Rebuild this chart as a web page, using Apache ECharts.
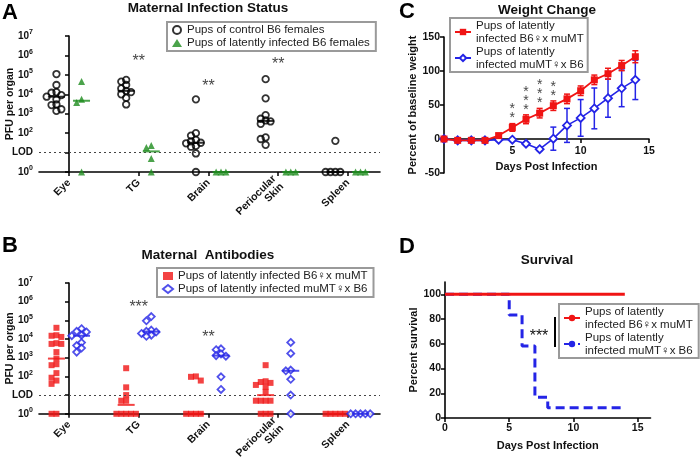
<!DOCTYPE html>
<html><head><meta charset="utf-8">
<script src="https://cdn.jsdelivr.net/npm/echarts@6/dist/echarts.min.js"></script>
<style>html,body{margin:0;padding:0;background:#fff}#c{width:700px;height:469px}</style>
</head><body><div id="c"></div>
<script>
// ---------- DATA ----------
const organs = ['Eye', 'TG', 'Brain', 'Periocular\nSkin', 'Spleen'];
const logTickLabels = {0: '10^0', 1: 'LOD', 2: '10^2', 3: '10^3', 4: '10^4', 5: '10^5', 6: '10^6', 7: '10^7'};

// Panel A: PFU per organ, one list per organ
const aControl = [
  [110000, 30000, 13000, 12000, 9000, 7500, 5500, 3000, 2800, 1700, 1400],
  [55000, 45000, 30000, 20000, 15000, 13000, 10000, 6500, 3000],
  [5500, 100, 75, 45, 38, 32, 30, 22, 20, 9, 1],
  [60000, 6200, 850, 550, 450, 400, 300, 60, 50, 25],
  [40, 1, 1, 1, 1]
];
const aLatent = [
  [45000, 5500, 3800, 1],
  [23, 18, 5, 1],
  [1, 1, 1],
  [1, 1, 1],
  [1, 1, 1]
];
const aSigOrgan = [1, 2, 3];
const aSigText = ['**', '**', '**'];
const aSigLevel = [4.7e5, 2.4e4, 3.2e5];

// Panel B
const bB6xmuMT = [
  [40000, 16000, 15000, 13000, 6000, 5500, 5500, 2000, 900, 450, 400, 150, 85, 60, 40, 1, 1],
  [275, 26, 10, 5, 5, 1, 1, 1, 1, 1],
  [100, 95, 60, 1, 1, 1, 1],
  [400, 55, 50, 45, 35, 28, 15, 5, 5, 5, 5, 1, 1, 1],
  [1, 1, 1, 1, 1]
];
const bmuMTxB6 = [
  [36000, 26000, 24000, 16000, 15000, 6500, 4500, 3300, 2000],
  [160000, 95000, 30000, 26000, 24000, 20000, 16000, 14000],
  [3000, 2700, 1600, 1300, 1200, 95, 20],
  [6600, 1700, 220, 200, 70, 10, 1],
  [1, 1, 1, 1, 1]
];
const bSigOrgan = [1, 2];
const bSigText = ['***', '**'];
const bSigLevel = [4.9e5, 1.2e4];

// Panel C: weight change (% of baseline)
const days = [0, 1, 2, 3, 4, 5, 6, 7, 8, 9, 10, 11, 12, 13, 14];
const wRedMean = [0, -2, -2, -2, 5, 17, 29, 38, 49, 59, 71, 87, 96, 108, 121];
const wRedSD   = [0, 1, 1, 1, 3, 5.6, 6.5, 7, 7, 7, 7, 7, 8, 7.5, 8.8];
const wBlueMean = [0, -2, -2, -2, -1, -1, -7, -15, 0.5, 20, 31, 45, 60, 74.5, 87];
const wBlueSD   = [0, 1, 1, 1, 1, 1, 2, 2, 17, 25, 27, 30, 28, 27, 29];
const cSigDays = [5, 6, 7, 8];
const cSigText = ['**', '***', '***', '**'];

// Panel D: survival
const sRedDays = [0, 14];
const sRed = [100, 100];
const sBlueDays = [0, 5, 6, 7, 8, 14];
const sBlue = [100, 83.3, 58.3, 16.7, 8.3, 8.3];

const legendText = {
  'A:ctl': 'Pups of control B6 females',
  'A:lat': 'Pups of latently infected B6 females',
  'B:b6': 'Pups of latently infected B6\u2640x muMT',
  'B:mu': 'Pups of latently infected muMT\u2640x B6',
  'C:b6': 'Pups of latently\ninfected B6\u2640x muMT',
  'C:mu': 'Pups of latently\ninfected muMT\u2640x B6',
  'D:b6': 'Pups of latently\ninfected B6\u2640x muMT',
  'D:mu': 'Pups of latently\ninfected muMT\u2640x B6'
};

// ---------- HELPERS ----------
const FONT = '"Liberation Sans", Arial, Helvetica, sans-serif';
const RED = '#f01414', BLUE = '#2424e6', GREEN = '#1e8c1e', BLACK = '#111';

function swarm(groups, offset, step, thr) {
  const out = [];
  groups.forEach((vals, ci) => {
    const placed = [];
    vals.forEach(v => {
      const lv = Math.log10(v);
      let off = 0;
      for (let i = 0; i < 30; i++) {
        off = (i === 0 ? 0 : (i % 2 ? -1 : 1) * Math.ceil(i / 2)) * step;
        const o = off;
        if (!placed.some(p => Math.abs(p.lv - lv) < thr && Math.abs(p.off - o) < step * 0.9)) break;
      }
      placed.push({lv, off});
      out.push([ci + offset + off, v]);
    });
  });
  return out;
}
function median(a) {
  const s = a.slice().sort((x, y) => x - y);
  const n = s.length;
  return n % 2 ? s[(n - 1) / 2] : (s[n / 2 - 1] + s[n / 2]) / 2;
}
function medians(groups, offset) {
  return groups.map((g, ci) => [ci + offset, median(g)]);
}

const axisLineStyle = {color: '#000', width: 1.6};
const tickLabelStyle = {fontSize: 10.5, fontWeight: 'bold', color: BLACK, fontFamily: FONT};
const nameStyle = {fontSize: 11, fontWeight: 'bold', color: BLACK, fontFamily: FONT};

function catX(gi) {
  return {
    gridIndex: gi, type: 'value', min: -0.43, max: 4.46,
    axisLine: {show: true, onZero: false, lineStyle: axisLineStyle},
    axisTick: {show: true, customValues: [0, 1, 2, 3, 4], length: 4, lineStyle: {width: 1.5, color: '#000'}},
    axisLabel: Object.assign({customValues: [0, 1, 2, 3, 4], formatter: v => organs[Math.round(v)], rotate: 45, margin: 9}, tickLabelStyle),
    splitLine: {show: false}
  };
}
function logY(gi) {
  return {
    gridIndex: gi, type: 'log', logBase: 10, min: 1, max: 1e7, splitNumber: 7,
    name: 'PFU per organ', nameLocation: 'middle', nameGap: 23, nameMoveOverlap: false,
    nameTextStyle: {fontSize: 10.5, fontWeight: 'bold', color: BLACK, fontFamily: FONT},
    axisLine: {show: true, lineStyle: axisLineStyle},
    axisTick: {show: true, length: 4, lineStyle: {width: 1.5, color: '#000'}},
    axisLabel: {
      margin: 6,
      formatter: v => {
        const e = Math.round(Math.log10(v));
        const t = logTickLabels[e];
        if (t.indexOf('^') < 0) return '{l|' + t + '}';
        const p = t.split('^');
        return '{b|' + p[0] + '}{s|' + p[1] + '}';
      },
      rich: {
        b: {fontSize: 10, fontWeight: 'bold', color: BLACK, fontFamily: FONT, lineHeight: 14},
        s: {fontSize: 7, fontWeight: 'bold', color: BLACK, fontFamily: FONT, lineHeight: 8, verticalAlign: 'top'},
        l: {fontSize: 10, fontWeight: 'bold', color: BLACK, fontFamily: FONT, lineHeight: 14}
      }
    },
    splitLine: {show: false}
  };
}
const lodLine = {
  silent: true, symbol: 'none', label: {show: false},
  lineStyle: {type: [2, 3], color: '#444', width: 1.1},
  data: [{yAxis: 10}]
};
function sigSeries(gi, organsIdx, texts, levels) {
  return {
    type: 'scatter', xAxisIndex: gi, yAxisIndex: gi, symbolSize: 1, silent: true,
    itemStyle: {color: 'rgba(0,0,0,0)'},
    label: {show: true, position: 'inside', formatter: p => p.name, fontSize: 16, color: BLACK, fontFamily: FONT},
    data: organsIdx.map((o, i) => ({name: texts[i], value: [o, levels[i]]}))
  };
}
function errSeries(gi, mean, sd, color) {
  return {
    type: 'custom', xAxisIndex: gi, yAxisIndex: gi, silent: true, z: 3,
    data: days.map((d, i) => [d, mean[i] - sd[i], mean[i] + sd[i]]),
    renderItem: (params, api) => {
      const x = api.value(0);
      const p1 = api.coord([x, api.value(1)]);
      const p2 = api.coord([x, api.value(2)]);
      const w = 3;
      const st = {stroke: color, lineWidth: 1.5};
      return {type: 'group', children: [
        {type: 'line', shape: {x1: p1[0], y1: p1[1], x2: p2[0], y2: p2[1]}, style: st},
        {type: 'line', shape: {x1: p1[0] - w, y1: p1[1], x2: p1[0] + w, y2: p1[1]}, style: st},
        {type: 'line', shape: {x1: p2[0] - w, y1: p2[1], x2: p2[0] + w, y2: p2[1]}, style: st}
      ]};
    }
  };
}

const OFF = 0.18, STEP = 0.07, THR = 0.26;

const legendBase = {
  orient: 'vertical', borderColor: '#9a9a9a', borderWidth: 2, itemGap: 0,
  textStyle: {fontSize: 11.5, color: '#222', fontFamily: FONT, lineHeight: 13},
  formatter: n => legendText[n], selectedMode: false
};

const option = {
  animation: false,
  textStyle: {fontFamily: FONT},
  grid: [
    {left: 39, top: 36, width: 341, height: 136},
    {left: 39, top: 283, width: 341, height: 135},
    {left: 444, top: 37, width: 205, height: 136},
    {left: 445, top: 282, width: 205.5, height: 136}
  ],
  xAxis: [
    catX(0), catX(1),
    {gridIndex: 2, type: 'value', min: 0, max: 15, interval: 5,
      name: 'Days Post Infection', nameLocation: 'middle', nameGap: -12, nameMoveOverlap: false, nameTextStyle: nameStyle,
      axisLine: {show: true, onZero: true, lineStyle: axisLineStyle},
      axisTick: {show: true, customValues: [5, 10, 15], length: 4, lineStyle: {width: 1.5, color: '#000'}},
      axisLabel: Object.assign({customValues: [5, 10, 15], margin: -27}, tickLabelStyle),
      splitLine: {show: false}},
    {gridIndex: 3, type: 'value', min: 0, max: 16,
      name: 'Days Post Infection', nameLocation: 'middle', nameGap: 22, nameMoveOverlap: false, nameTextStyle: nameStyle,
      axisLine: {show: true, onZero: false, lineStyle: axisLineStyle},
      axisTick: {show: true, customValues: [0, 5, 10, 15], length: 4, lineStyle: {width: 1.5, color: '#000'}},
      axisLabel: Object.assign({customValues: [0, 5, 10, 15], margin: 5}, tickLabelStyle),
      splitLine: {show: false}}
  ],
  yAxis: [
    logY(0), logY(1),
    {gridIndex: 2, type: 'value', min: -50, max: 150, interval: 50,
      name: 'Percent of baseline weight', nameLocation: 'middle', nameGap: 26, nameMoveOverlap: false, nameTextStyle: nameStyle,
      axisLine: {show: true, lineStyle: axisLineStyle},
      axisTick: {show: true, length: 4, lineStyle: {width: 1.5, color: '#000'}},
      axisLabel: Object.assign({margin: 4}, tickLabelStyle),
      splitLine: {show: false}},
    {gridIndex: 3, type: 'value', min: 0, max: 110,
      name: 'Percent survival', nameLocation: 'middle', nameGap: 26, nameMoveOverlap: false, nameTextStyle: nameStyle,
      axisLine: {show: true, lineStyle: axisLineStyle},
      axisTick: {show: true, customValues: [0, 20, 40, 60, 80, 100], length: 4, lineStyle: {width: 1.5, color: '#000'}},
      axisLabel: Object.assign({customValues: [0, 20, 40, 60, 80, 100], margin: 4}, tickLabelStyle),
      splitLine: {show: false}}
  ],
  legend: [
    Object.assign({}, legendBase, {
      left: 167, top: 22, padding: [2, 6, 2, 5], itemWidth: 10, itemHeight: 8, itemGap: 1,
      textStyle: {fontSize: 11.5, color: '#222', fontFamily: FONT, lineHeight: 12},
      data: [
        {name: 'A:ctl', icon: 'circle', itemStyle: {color: 'rgba(0,0,0,0)', borderColor: '#000', borderWidth: 2}},
        {name: 'A:lat', icon: 'triangle', itemStyle: {color: GREEN, borderWidth: 0}}
      ]}),
    Object.assign({}, legendBase, {
      left: 157, top: 268, padding: [2, 6, 2, 5], itemWidth: 10, itemHeight: 8, itemGap: 1,
      textStyle: {fontSize: 11.5, color: '#222', fontFamily: FONT, lineHeight: 12},
      data: [
        {name: 'B:b6', icon: 'rect', itemStyle: {color: RED, borderWidth: 0}},
        {name: 'B:mu', icon: 'diamond', itemStyle: {color: '#fff', borderColor: BLUE, borderWidth: 2}}
      ]}),
    Object.assign({}, legendBase, {
      left: 450, top: 18, padding: [1, 4, 1, 4], itemWidth: 16, itemHeight: 8, itemGap: 0,
      data: ['C:b6', 'C:mu']}),
    Object.assign({}, legendBase, {
      left: 559, top: 304, padding: [1, 6, 1, 4], itemWidth: 16, itemHeight: 8, itemGap: 0,
      data: ['D:b6', 'D:mu']})
  ],
  series: [
    // Panel A
    {name: 'A:ctl', type: 'scatter', xAxisIndex: 0, yAxisIndex: 0, symbol: 'circle', symbolSize: 6.5, z: 4,
      itemStyle: {color: 'rgba(0,0,0,0)', borderColor: '#000', borderWidth: 1.8},
      data: swarm(aControl, -OFF, STEP, THR), markLine: lodLine},
    {name: 'A:lat', type: 'scatter', xAxisIndex: 0, yAxisIndex: 0, symbol: 'triangle', symbolSize: 7, z: 4,
      itemStyle: {color: GREEN}, data: swarm(aLatent, OFF, STEP, THR)},
    {type: 'scatter', xAxisIndex: 0, yAxisIndex: 0, symbol: 'rect', symbolSize: [17, 2], z: 5, silent: true,
      itemStyle: {color: '#000'}, data: medians(aControl, -OFF)},
    {type: 'scatter', xAxisIndex: 0, yAxisIndex: 0, symbol: 'rect', symbolSize: [17, 2], z: 5, silent: true,
      itemStyle: {color: GREEN}, data: medians(aLatent, OFF)},
    sigSeries(0, aSigOrgan, aSigText, aSigLevel),
    // Panel B
    {name: 'B:b6', type: 'scatter', xAxisIndex: 1, yAxisIndex: 1, symbol: 'rect', symbolSize: 6, z: 4,
      itemStyle: {color: RED}, data: swarm(bB6xmuMT, -OFF, STEP, THR), markLine: lodLine},
    {name: 'B:mu', type: 'scatter', xAxisIndex: 1, yAxisIndex: 1, symbol: 'diamond', symbolSize: 7, z: 4,
      itemStyle: {color: '#fff', borderColor: BLUE, borderWidth: 1.8}, data: swarm(bmuMTxB6, OFF, STEP, THR)},
    {type: 'scatter', xAxisIndex: 1, yAxisIndex: 1, symbol: 'rect', symbolSize: [17, 2], z: 5, silent: true,
      itemStyle: {color: RED}, data: medians(bB6xmuMT, -OFF)},
    {type: 'scatter', xAxisIndex: 1, yAxisIndex: 1, symbol: 'rect', symbolSize: [17, 2], z: 5, silent: true,
      itemStyle: {color: BLUE}, data: medians(bmuMTxB6, OFF)},
    sigSeries(1, bSigOrgan, bSigText, bSigLevel),
    // Panel C
    errSeries(2, wBlueMean, wBlueSD, BLUE),
    {name: 'C:mu', type: 'line', xAxisIndex: 2, yAxisIndex: 2, symbol: 'diamond', symbolSize: 8, z: 4,
      lineStyle: {color: BLUE, width: 1.6}, itemStyle: {color: '#fff', borderColor: BLUE, borderWidth: 1.8},
      data: days.map((d, i) => [d, wBlueMean[i]])},
    errSeries(2, wRedMean, wRedSD, RED),
    {name: 'C:b6', type: 'line', xAxisIndex: 2, yAxisIndex: 2, symbol: 'rect', symbolSize: 7, z: 5,
      lineStyle: {color: RED, width: 1.8}, itemStyle: {color: RED},
      data: days.map((d, i) => [d, wRedMean[i]])},
    {type: 'scatter', xAxisIndex: 2, yAxisIndex: 2, symbolSize: 1, silent: true, itemStyle: {color: 'rgba(0,0,0,0)'},
      label: {show: true, position: 'top', distance: 0, formatter: p => p.name.split('').join('\n'),
        fontSize: 14, lineHeight: 9, color: BLACK, fontFamily: FONT},
      data: cSigDays.map((d, i) => ({name: cSigText[i], value: [d, wRedMean[days.indexOf(d)] + wRedSD[days.indexOf(d)]]}))},
    // Panel D
    {name: 'D:b6', type: 'line', xAxisIndex: 3, yAxisIndex: 3, symbol: 'none', z: 4,
      lineStyle: {color: RED, width: 3}, itemStyle: {color: RED},
      data: sRedDays.map((d, i) => [d, sRed[i]])},
    {name: 'D:mu', type: 'line', xAxisIndex: 3, yAxisIndex: 3, symbol: 'none', step: 'end', z: 3,
      lineStyle: {color: BLUE, width: 3, type: [9, 5]}, itemStyle: {color: BLUE},
      data: sBlueDays.map((d, i) => [d, sBlue[i]])}
  ],
  graphic: [
    {type: 'text', x: 2, y: 13, style: {text: 'A', font: 'bold 22px ' + FONT, fill: '#000', textVerticalAlign: 'middle'}},
    {type: 'text', x: 208, y: 8, style: {text: 'Maternal Infection Status', font: 'bold 13.5px ' + FONT, fill: BLACK, textAlign: 'center', textVerticalAlign: 'middle'}},
    {type: 'text', x: 2, y: 246, style: {text: 'B', font: 'bold 22px ' + FONT, fill: '#000', textVerticalAlign: 'middle'}},
    {type: 'text', x: 208, y: 255, style: {text: 'Maternal  Antibodies', font: 'bold 13.5px ' + FONT, fill: BLACK, textAlign: 'center', textVerticalAlign: 'middle'}},
    {type: 'text', x: 399, y: 12, style: {text: 'C', font: 'bold 22px ' + FONT, fill: '#000', textVerticalAlign: 'middle'}},
    {type: 'text', x: 547, y: 10, style: {text: 'Weight Change', font: 'bold 13.5px ' + FONT, fill: BLACK, textAlign: 'center', textVerticalAlign: 'middle'}},
    {type: 'text', x: 399, y: 247, style: {text: 'D', font: 'bold 22px ' + FONT, fill: '#000', textVerticalAlign: 'middle'}},
    {type: 'text', x: 547, y: 260, style: {text: 'Survival', font: 'bold 13.5px ' + FONT, fill: BLACK, textAlign: 'center', textVerticalAlign: 'middle'}},
    {type: 'text', x: 539, y: 337, style: {text: '***', font: '16px ' + FONT, fill: BLACK, textAlign: 'center', textVerticalAlign: 'middle'}},
    {type: 'line', shape: {x1: 555, y1: 317, x2: 555, y2: 347}, style: {stroke: '#000', lineWidth: 2}}
  ]
};

const chart = echarts.init(document.getElementById('c'));
chart.setOption(option);
</script>
</body></html>
